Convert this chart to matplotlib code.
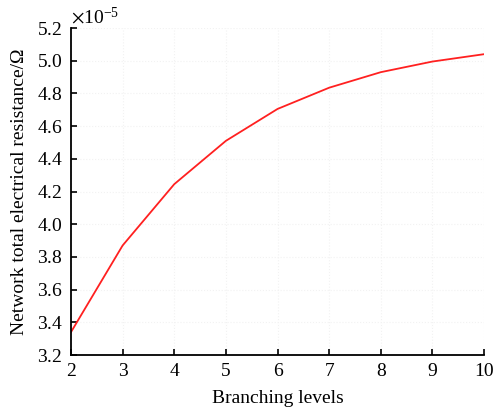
import numpy as np
import matplotlib.pyplot as plt
from matplotlib.ticker import ScalarFormatter

plt.rcParams['font.family'] = ['Liberation Serif', 'DejaVu Serif']
plt.rcParams['mathtext.fontset'] = 'stix'

# Vertakkingsniveaus en totale weerstand van het netwerk
levels = [2, 3, 4, 5, 6, 7, 8, 9, 10]
resistance = [3.34e-5, 3.87e-5, 4.245e-5, 4.51e-5, 4.705e-5, 4.835e-5, 4.93e-5, 4.995e-5, 5.04e-5]

fig = plt.figure(figsize=(4.95, 4.09), dpi=100)
ax = fig.add_axes([0.1434, 0.132, 0.8346, 0.7995])

ax.plot(levels, resistance, color='#ff2020', lw=1.3)

ax.set_xlim(2, 10)
ax.set_ylim(3.2e-5, 5.2e-5)
ax.set_xticks(range(2, 11))
ax.set_yticks(np.arange(3.2, 5.21, 0.2) * 1e-5)

fmt = ScalarFormatter(useMathText=True)
fmt.set_powerlimits((-3, 3))
ax.yaxis.set_major_formatter(fmt)
ax.yaxis.get_offset_text().set_fontsize(14)
ax.yaxis.get_offset_text().set_x(0.0)

# Bijna onzichtbare gestippelde rasterlijnen
ax.grid(True, color='#f2f2f2', ls=':', lw=0.8)

for s in ['top', 'right']:
    ax.spines[s].set_visible(False)
for s in ['left', 'bottom']:
    ax.spines[s].set_linewidth(1.3)

ax.tick_params(direction='in', length=4, width=1.2, labelsize=14, pad=6)
ax.set_xlabel('Branching levels', fontsize=14, labelpad=7)
ax.set_ylabel('Network total electrical resistance/Ω', fontsize=14, labelpad=6)

plt.savefig('out.png', dpi=100)
